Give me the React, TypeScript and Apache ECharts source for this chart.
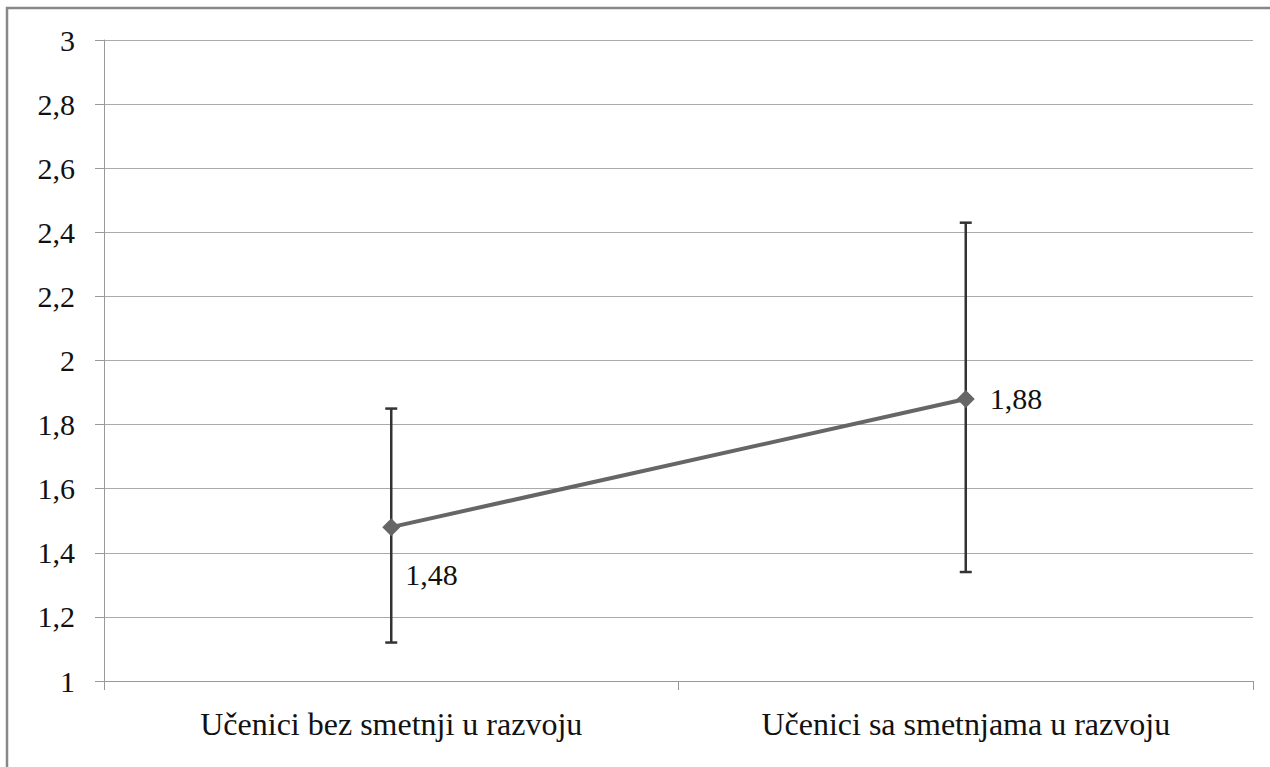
import React, { useEffect, useRef } from "react";
import * as echarts from "echarts";

const categories = ["Učenici bez smetnji u razvoju", "Učenici sa smetnjama u razvoju"];
const means = [1.48, 1.88];
const lowerBounds = [1.12, 1.34];
const upperBounds = [1.85, 2.43];

const fmt = (v: number) => String(Math.round(v * 100) / 100).replace(".", ",");

export default function App() {
  const ref = useRef<HTMLDivElement>(null);
  useEffect(() => {
    const chart = echarts.init(ref.current!, null, { renderer: "svg" });
    const font = "Liberation Serif";
    chart.setOption({
      animation: false,
      backgroundColor: "#ffffff",
      textStyle: { fontFamily: font, fontSize: 30 },
      graphic: [
        {
          type: "line",
          z: 100,
          shape: { x1: 6, y1: 8, x2: 1270, y2: 8 },
          style: { stroke: "#888888", lineWidth: 2.5 },
          silent: true,
        },
        {
          type: "line",
          z: 100,
          shape: { x1: 7, y1: 7, x2: 7, y2: 767 },
          style: { stroke: "#888888", lineWidth: 2.5 },
          silent: true,
        },
      ],
      grid: { left: 104, right: 17, top: 40, bottom: 86 },
      xAxis: {
        type: "category",
        data: categories,
        boundaryGap: true,
        axisLine: { lineStyle: { color: "#999999", width: 1 } },
        axisTick: { show: true, length: 9, alignWithLabel: false, lineStyle: { color: "#999999" } },
        axisLabel: { color: "#111111", fontSize: 32, fontFamily: font, margin: 27 },
      },
      yAxis: {
        type: "value",
        min: 1,
        max: 3,
        interval: 0.2,
        axisLine: { show: true, lineStyle: { color: "#999999", width: 1 } },
        axisTick: { show: true, length: 9, lineStyle: { color: "#999999" } },
        splitLine: { lineStyle: { color: "#aaaaaa", width: 1 } },
        axisLabel: { color: "#111111", fontSize: 30, fontFamily: font, margin: 29, formatter: (v: number) => fmt(v) },
      },
      series: [
        {
          type: "custom",
          z: 3,
          renderItem: (params: any, api: any) => {
            const i = api.value(0);
            const lo = api.coord([i, api.value(1)]);
            const hi = api.coord([i, api.value(2)]);
            const half = 6;
            const style = { stroke: "#333333", lineWidth: 2.5 };
            return {
              type: "group",
              children: [
                { type: "line", shape: { x1: lo[0], y1: lo[1], x2: hi[0], y2: hi[1] }, style },
                { type: "line", shape: { x1: lo[0] - half, y1: lo[1], x2: lo[0] + half, y2: lo[1] }, style },
                { type: "line", shape: { x1: hi[0] - half, y1: hi[1], x2: hi[0] + half, y2: hi[1] }, style },
              ],
            };
          },
          encode: { x: 0, y: [1, 2] },
          data: categories.map((_, i) => [i, lowerBounds[i], upperBounds[i]]),
        },
        {
          type: "line",
          z: 4,
          data: means.map((m, i) => ({
            value: m,
            label: {
              show: true,
              position: i === 0 ? [23, 41] : "right",
              distance: 15,
              formatter: (p: any) => fmt(p.value),
              color: "#111111",
              fontSize: 30,
              fontFamily: font,
            },
          })),
          symbol: "diamond",
          symbolSize: [18, 18],
          lineStyle: { color: "#666666", width: 4 },
          itemStyle: { color: "#666666" },
        },
      ],
    });
    return () => chart.dispose();
  }, []);
  return (
    <div
      ref={ref}
      style={{ position: "absolute", left: 0, top: 0, width: 1270, height: 767 }}
    />
  );
}
